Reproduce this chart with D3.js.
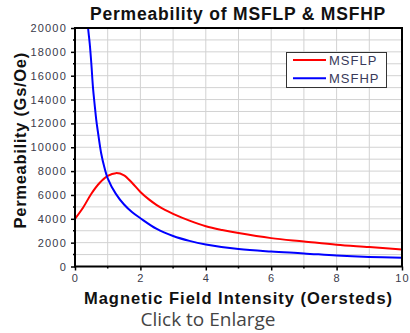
<!DOCTYPE html>
<html>
<head>
<meta charset="utf-8">
<script src="https://cdn.jsdelivr.net/npm/d3@7"></script>
<style>
  html, body { margin: 0; padding: 0; background: #fff; }
  svg { display: block; }
</style>
</head>
<body>
<svg id="chart" width="410" height="333"></svg>
<script>
// --- data ---
const seriesNames = ['MSFLP', 'MSFHP'];
const seriesColors = ['#ff0000', '#0000ff'];

// MSFLP: [field (Oe), permeability (Gs/Oe)]
const msflp = [
  [0, 4000], [0.25, 4950], [0.5, 6100], [0.75, 7000], [1, 7600], [1.25, 7830],
  [1.5, 7650], [1.75, 7000], [2, 6250], [2.25, 5650], [2.5, 5150], [2.75, 4750],
  [3, 4420], [3.5, 3850], [4, 3380], [4.5, 3060], [5, 2800], [6, 2380],
  [7, 2100], [8, 1820], [9, 1630], [10, 1420]
];

// MSFHP
const msfhp = [
  [0.38, 21000], [0.4, 20000], [0.45, 18700], [0.5, 17000], [0.55, 15000],
  [0.6, 13600], [0.65, 12300], [0.7, 11300], [0.8, 9500], [0.9, 8300],
  [1, 7400], [1.25, 6090], [1.5, 5200], [1.75, 4550], [2, 4050], [2.5, 3150],
  [3, 2560], [3.5, 2150], [4, 1850], [5, 1460], [6, 1250], [7, 1100],
  [8, 920], [9, 800], [10, 730]
];

const xMajorTicks = [0, 2, 4, 6, 8, 10];
const xMinorTicks = [1, 3, 5, 7, 9];
const yMajorTicks = [0, 2000, 4000, 6000, 8000, 10000, 12000, 14000, 16000, 18000, 20000];
const yMinorTicks = [1000, 3000, 5000, 7000, 9000, 11000, 13000, 15000, 17000, 19000];

const titleText = 'Permeability of MSFLP & MSFHP';
const xTitle = 'Magnetic Field Intensity (Oersteds)';
const yTitle = 'Permeability (Gs/Oe)';
const footerText = 'Click to Enlarge';

// --- layout ---
const W = 410, H = 333;
const plot = { left: 75, top: 28, right: 402, bottom: 266.5 };

const svg = d3.select('#chart');

const x = d3.scaleLinear().domain([0, 10]).range([plot.left, plot.right]);
const y = d3.scaleLinear().domain([0, 20000]).range([plot.bottom, plot.top]);

// grid lines
const grid = svg.append('g').attr('stroke', '#d2d2d2').attr('stroke-width', 1);
grid.selectAll('.vgrid')
  .data(xMajorTicks.concat(xMinorTicks))
  .enter().append('line')
  .attr('x1', d => x(d)).attr('x2', d => x(d))
  .attr('y1', plot.top).attr('y2', plot.bottom);
grid.selectAll('.hgrid')
  .data(yMajorTicks.concat(yMinorTicks))
  .enter().append('line')
  .attr('x1', plot.left).attr('x2', plot.right)
  .attr('y1', d => y(d)).attr('y2', d => y(d));

// clip for the curves
svg.append('clipPath').attr('id', 'plot-clip')
  .append('rect')
  .attr('x', plot.left).attr('y', plot.top)
  .attr('width', plot.right - plot.left).attr('height', plot.bottom - plot.top);

const line = d3.line()
  .x(d => x(d[0]))
  .y(d => y(d[1]))
  .curve(d3.curveCatmullRom.alpha(0.5));

[msflp, msfhp].forEach((s, i) => {
  svg.append('path')
    .datum(s)
    .attr('clip-path', 'url(#plot-clip)')
    .attr('fill', 'none')
    .attr('stroke', seriesColors[i])
    .attr('stroke-width', 2)
    .attr('d', line);
});

// frame
svg.append('rect')
  .attr('x', plot.left).attr('y', plot.top)
  .attr('width', plot.right - plot.left).attr('height', plot.bottom - plot.top)
  .attr('fill', 'none').attr('stroke', '#000').attr('stroke-width', 2);

// axes
const tickFont = 'Liberation Sans, Arial, sans-serif';

const yAxis = svg.append('g')
  .attr('transform', `translate(${plot.left},0)`)
  .call(d3.axisLeft(y).tickValues(yMajorTicks).tickSize(4).tickPadding(5).tickFormat(d3.format('d')));
const xAxis = svg.append('g')
  .attr('transform', `translate(0,${plot.bottom})`)
  .call(d3.axisBottom(x).tickValues(xMajorTicks).tickSize(4).tickPadding(4).tickFormat(d3.format('d')));

[xAxis, yAxis].forEach(a => {
  a.select('.domain').remove();
  a.selectAll('line').attr('stroke', '#000').attr('stroke-width', 1.5);
  a.selectAll('text')
    .attr('fill', '#3a3a4a')
    .style('font-family', tickFont)
    .style('font-size', '11px')
    .style('letter-spacing', '1.2px');
});
yAxis.selectAll('text').attr('dx', '1px');

// minor ticks
svg.append('g').selectAll('line')
  .data(yMinorTicks).enter().append('line')
  .attr('x1', plot.left - 2).attr('x2', plot.left)
  .attr('y1', d => y(d)).attr('y2', d => y(d))
  .attr('stroke', '#000').attr('stroke-width', 1.5);
svg.append('g').selectAll('line')
  .data(xMinorTicks).enter().append('line')
  .attr('x1', d => x(d)).attr('x2', d => x(d))
  .attr('y1', plot.bottom).attr('y2', plot.bottom + 2)
  .attr('stroke', '#000').attr('stroke-width', 1.5);

// titles
const boldFont = 'Liberation Sans, Arial, sans-serif';
svg.append('text')
  .attr('x', 238).attr('y', 20)
  .attr('text-anchor', 'middle')
  .style('font-family', boldFont).style('font-weight', 'bold').style('font-size', '17.5px')
  .style('letter-spacing', '0.8px')
  .attr('fill', '#111')
  .text(titleText);

svg.append('text')
  .attr('x', 238.5).attr('y', 303.5)
  .attr('text-anchor', 'middle')
  .style('font-family', boldFont).style('font-weight', 'bold').style('font-size', '16.5px')
  .style('letter-spacing', '1px')
  .attr('fill', '#111')
  .text(xTitle);

svg.append('text')
  .attr('transform', `translate(25.5,${(plot.top + plot.bottom) / 2 - 7}) rotate(-90)`)
  .attr('text-anchor', 'middle')
  .style('font-family', boldFont).style('font-weight', 'bold').style('font-size', '16.5px')
  .style('letter-spacing', '0.7px')
  .attr('fill', '#111')
  .text(yTitle);

svg.append('text')
  .attr('x', 208).attr('y', 325.5)
  .attr('text-anchor', 'middle')
  .style('font-family', 'Open Sans, sans-serif').style('font-size', '19px')
  .attr('fill', '#444')
  .text(footerText);

// legend
const legend = svg.append('g');
legend.append('rect')
  .attr('x', 286.5).attr('y', 52.5).attr('width', 100).attr('height', 35)
  .attr('fill', '#fff').attr('stroke', '#333').attr('stroke-width', 1);
seriesNames.forEach((name, i) => {
  const ly = 60 + i * 18.3;
  legend.append('line')
    .attr('x1', 293).attr('x2', 326).attr('y1', ly).attr('y2', ly)
    .attr('stroke', seriesColors[i]).attr('stroke-width', 2);
  legend.append('text')
    .attr('x', 329).attr('y', ly + 4.5)
    .style('font-family', tickFont).style('font-size', '13px').style('letter-spacing', '1px')
    .attr('fill', '#3a3a5a')
    .text(name);
});
</script>
</body>
</html>
